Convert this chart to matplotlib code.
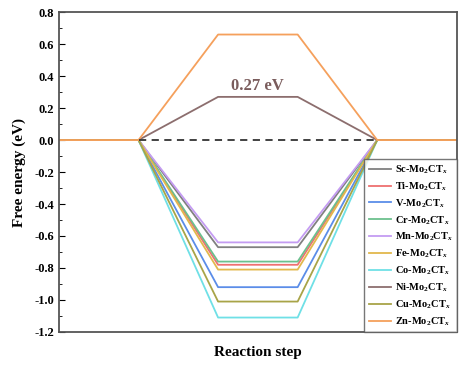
import numpy as np
import matplotlib.pyplot as plt

plt.rcParams['font.family'] = ['Liberation Serif', 'DejaVu Serif']
plt.rcParams['font.weight'] = 'bold'
plt.rcParams['mathtext.fontset'] = 'custom'
plt.rcParams['mathtext.rm'] = 'Liberation Serif:bold'
plt.rcParams['mathtext.it'] = 'Liberation Serif:bold:italic'

# free energy of the intermediate state (eV)
metals = ['Sc', 'Ti', 'V', 'Cr', 'Mn', 'Fe', 'Co', 'Ni', 'Cu', 'Zn']
energies = [-0.67, -0.78, -0.92, -0.76, -0.64, -0.81, -1.11, 0.27, -1.01, 0.66]
colors = ['#808080', '#ee7070', '#5b8de8', '#6cc08e', '#c49cf2',
          '#e2b84c', '#6fe0e6', '#8c6e6e', '#a8a448', '#f5a05c']

steps = [0, 1, 2, 3, 4, 5]
yticks = [-1.2, -1.0, -0.8, -0.6, -0.4, -0.2, 0.0, 0.2, 0.4, 0.6, 0.8]

fig = plt.figure(figsize=(4.68, 3.68), dpi=100)
ax = fig.add_axes([0.126, 0.098, 0.85, 0.869])

for m, e, c in zip(metals, energies, colors):
    y = [0, 0, e, e, 0, 0]
    ax.plot(steps, y, color=c, lw=1.3,
            label=m + r'-Mo$_2$CT$_x$')

ax.plot([1, 4], [0, 0], '--', color='#333333', lw=1.3, dashes=(4, 3))

ax.text(2.5, 0.285, '0.27 eV', color='#7a5c5c', fontsize=12,
        fontweight='bold', ha='center', va='bottom')

ax.set_xlim(0, 5)
ax.set_ylim(-1.2, 0.8)
ax.set_xticks([])
ax.set_yticks(yticks)
ax.set_yticklabels(['%.1f' % v for v in yticks])
ax.set_yticks(np.arange(-1.1, 0.8, 0.2), minor=True)
ax.tick_params(axis='y', which='both', direction='in', labelsize=9)
ax.tick_params(axis='y', which='major', length=4)
ax.tick_params(axis='y', which='minor', length=2)
for s in ax.spines.values():
    s.set_color('#555555')
    s.set_linewidth(1.3)

ax.set_ylabel('Free energy (eV)', fontsize=11, fontweight='bold', labelpad=6)
ax.set_xlabel('Reaction step', fontsize=11, fontweight='bold', labelpad=10)

leg = ax.legend(loc='lower right', fontsize=7.5, frameon=True, fancybox=False,
                edgecolor='#555555', borderaxespad=0, handlelength=2.1,
                handletextpad=0.4, labelspacing=0.42)
leg.get_frame().set_linewidth(1.0)

fig.savefig('out.png', dpi=100)
